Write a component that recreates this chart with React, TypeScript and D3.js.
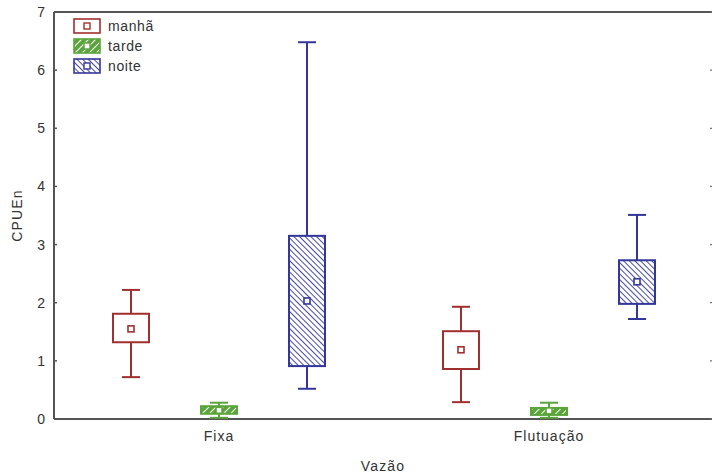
import React from "react";
import * as d3 from "d3";

const categories = ["Fixa", "Flutuação"];
const periods = ["manhã", "tarde", "noite"];
const colors = ["#a0302f", "#5aa53a", "#34379a"];
const yTicks = [0, 1, 2, 3, 4, 5, 6, 7];

// [whisker low, box low, median, box high, whisker high] per category, per period
const manha = [
  [0.72, 1.32, 1.55, 1.81, 2.22],
  [0.29, 0.86, 1.19, 1.51, 1.93],
];
const tarde = [
  [0.02, 0.09, 0.15, 0.22, 0.28],
  [0.02, 0.07, 0.14, 0.19, 0.28],
];
const noite = [
  [0.52, 0.91, 2.03, 3.15, 6.48],
  [1.72, 1.98, 2.36, 2.73, 3.51],
];
const series = [manha, tarde, noite];

const W = 712;
const H = 476;
const m = { left: 54, top: 12, right: -2, bottom: 57 };

export default function App() {
  const x = d3
    .scaleBand()
    .domain(categories)
    .range([m.left, W - m.right]);
  const y = d3.scaleLinear().domain([0, 7]).range([H - m.bottom, m.top]);
  const offset = d3.scalePoint().domain(periods).range([-88, 88]);

  const boxW = 36;
  const capW = 18;
  const font = "Liberation Sans, Arial, sans-serif";
  const fills = ["#fff", "url(#hatchG)", "url(#hatchB)"];

  return (
    <svg width={W} height={H} style={{ position: "absolute", left: 0, top: 0 }}>
      <defs>
        <pattern id="hatchG" width="5" height="5" patternUnits="userSpaceOnUse" patternTransform="rotate(45)">
          <rect width="5" height="5" fill={colors[1]} />
          <line x1="0" y1="0" x2="0" y2="5" stroke="#fff" strokeWidth="2" />
        </pattern>
        <pattern id="hatchB" width="4" height="4" patternUnits="userSpaceOnUse" patternTransform="rotate(-45)">
          <rect width="4" height="4" fill="#fff" />
          <line x1="0" y1="0" x2="0" y2="4" stroke={colors[2]} strokeWidth="1.8" />
        </pattern>
      </defs>
      <rect width={W} height={H} fill="#fff" />

      {/* frame */}
      <g stroke="#555" strokeWidth="2" fill="none">
        <line x1={m.left} y1={m.top} x2={W + 2} y2={m.top} />
        <line x1={m.left} y1={m.top} x2={m.left} y2={y(0)} />
        <line x1={m.left} y1={y(0)} x2={W + 2} y2={y(0)} />
      </g>

      {yTicks.map((t) => (
        <g key={t}>
          <line x1={m.left} x2={m.left + 3} y1={y(t)} y2={y(t)} stroke="#555" strokeWidth="1.5" />
          <line x1={W} x2={W - 2} y1={y(t)} y2={y(t)} stroke="#777" strokeWidth="1.2" />
          <text x={m.left - 9} y={y(t) + 5} textAnchor="end" fontFamily={font} fontSize="14" fill="#333">
            {t}
          </text>
        </g>
      ))}

      {categories.map((c) => {
        const cx = x(c)! + x.bandwidth() / 2;
        return (
          <g key={c}>
            <line x1={cx} x2={cx} y1={y(0)} y2={y(0) - 4} stroke="#333" strokeWidth="1.5" />
            <text x={cx} y={y(0) + 22} textAnchor="middle" fontFamily={font} fontSize="14" letterSpacing="1" fill="#333">
              {c}
            </text>
          </g>
        );
      })}

      {series.map((s, si) =>
        s.map((d, ci) => {
          const cx = x(categories[ci])! + x.bandwidth() / 2 + offset(periods[si])!;
          const col = colors[si];
          return (
            <g key={si + "-" + ci} stroke={col} strokeWidth="2">
              <line x1={cx} x2={cx} y1={y(d[0])} y2={y(d[1])} />
              <line x1={cx} x2={cx} y1={y(d[3])} y2={y(d[4])} />
              <line x1={cx - capW / 2} x2={cx + capW / 2} y1={y(d[0])} y2={y(d[0])} />
              <line x1={cx - capW / 2} x2={cx + capW / 2} y1={y(d[4])} y2={y(d[4])} />
              <rect x={cx - boxW / 2} y={y(d[3])} width={boxW} height={y(d[1]) - y(d[3])} fill={fills[si]} />
              <rect x={cx - 3} y={y(d[2]) - 3} width={6} height={6} fill="#fff" strokeWidth="1.6" />
            </g>
          );
        })
      )}

      {/* legend */}
      {periods.map((p, i) => {
        const ly = 19 + i * 20;
        return (
          <g key={p}>
            <rect x={74} y={ly} width={26} height={14} fill={fills[i]} stroke={colors[i]} strokeWidth="1.6" />
            <rect x={84} y={ly + 4} width={6} height={6} fill="#fff" stroke={colors[i]} strokeWidth="1.4" />
            <text x={108} y={ly + 12} fontFamily={font} fontSize="14" letterSpacing="0.6" fill="#333">
              {p}
            </text>
          </g>
        );
      })}

      <text
        transform={`translate(22,${(y(0) + y(7)) / 2}) rotate(-90)`}
        textAnchor="middle"
        fontFamily={font}
        fontSize="14"
        letterSpacing="1.2"
        fill="#333"
      >
        CPUEn
      </text>
      <text x={383} y={471} textAnchor="middle" fontFamily={font} fontSize="14" letterSpacing="1.2" fill="#333">
        Vazão
      </text>
    </svg>
  );
}
